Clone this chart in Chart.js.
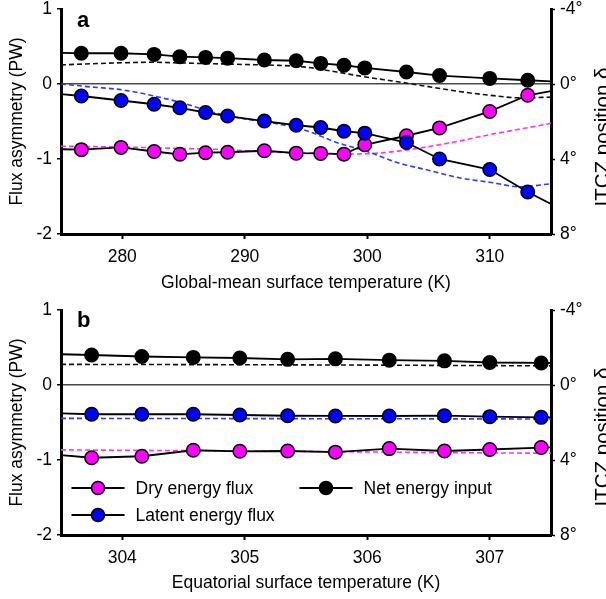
<!DOCTYPE html>
<html>
<head>
<meta charset="utf-8">
<script src="https://cdn.jsdelivr.net/npm/chart.js@4.4.0/dist/chart.umd.min.js"></script>
<style>
  html, body { margin: 0; padding: 0; background: #fff; }
  #wrap { position: relative; width: 606px; height: 599px; overflow: hidden; }
  canvas { position: absolute; left: 0; }
  #chartA { top: 0; }
  #chartB { top: 300px; }
</style>
</head>
<body>
<div id="wrap">
  <canvas id="chartA" width="606" height="300"></canvas>
  <canvas id="chartB" width="606" height="299"></canvas>
</div>
<script>
// Panel a: runs vs global-mean surface temperature (first/last entries are where the lines meet the axes)
const tempA = [275, 276.66, 279.9, 282.6, 284.7, 286.8, 288.6, 291.6, 294.2, 296.2, 298.1, 299.8, 303.2, 305.9, 310.0, 313.1, 315];
const netA = [0.415, 0.41, 0.41, 0.395, 0.365, 0.355, 0.345, 0.32, 0.31, 0.275, 0.25, 0.215, 0.16, 0.113, 0.075, 0.05, 0.035];
const latentA = [-0.135, -0.16, -0.22, -0.27, -0.317, -0.38, -0.427, -0.494, -0.55, -0.58, -0.63, -0.655, -0.78, -1.0, -1.14, -1.44, -1.6];
const dryA = [-0.87, -0.875, -0.845, -0.9, -0.937, -0.916, -0.91, -0.89, -0.922, -0.925, -0.935, -0.81, -0.69, -0.585, -0.366, -0.15, -0.095];

// Panel a: dashed curves
const thA = [275, 277.5, 280, 282.5, 285, 287.5, 290, 292.5, 295, 297.5, 300, 302.5, 305, 307.5, 310, 312.5, 315];
const netThA = [0.255, 0.27, 0.283, 0.29, 0.28, 0.27, 0.26, 0.25, 0.225, 0.16, 0.09, 0.03, -0.035, -0.1, -0.15, -0.185, -0.175];
const latThA = [0.0, -0.04, -0.078, -0.156, -0.257, -0.38, -0.465, -0.525, -0.62, -0.78, -0.9, -1.05, -1.15, -1.25, -1.31, -1.37, -1.33];
const dryThA = [-0.83, -0.835, -0.84, -0.85, -0.86, -0.87, -0.89, -0.91, -0.92, -0.935, -0.93, -0.895, -0.835, -0.76, -0.675, -0.6, -0.525];

// Panel b: runs vs equatorial surface temperature
const tempB = [303.5, 303.75, 304.16, 304.58, 304.96, 305.35, 305.74, 306.18, 306.63, 307.0, 307.42, 307.5];
const netB = [0.41, 0.4, 0.38, 0.368, 0.36, 0.342, 0.349, 0.331, 0.322, 0.3, 0.294, 0.293];
const latentB = [-0.378, -0.39, -0.39, -0.39, -0.4, -0.41, -0.413, -0.413, -0.409, -0.422, -0.431, -0.432];
const dryB = [-0.935, -0.97, -0.95, -0.87, -0.884, -0.88, -0.895, -0.848, -0.88, -0.86, -0.834, -0.832];

// Panel b: dashed curves
const thB = [303.5, 304.5, 305.5, 306.5, 307.5];
const netThB = [0.275, 0.272, 0.268, 0.262, 0.255];
const latThB = [-0.445, -0.447, -0.449, -0.451, -0.453];
const dryThB = [-0.865, -0.875, -0.885, -0.9, -0.91];

// Tick labels
const xTicksA = [280, 290, 300, 310];
const xTicksB = [304, 305, 306, 307];
const yTicks = [1, 0, -1, -2];
const itczTicks = [-4, 0, 4, 8];

const FAMILY = '"Liberation Sans", Arial, Helvetica, sans-serif';
const font = { family: FAMILY, size: 17.5 };
const MAGENTA = '#ff00ff';
const BLUE = '#0000ff';

function pts(xs, ys) {
    return xs.map((x, i) => ({ x: x, y: ys[i] }));
}

// solid series with markers; no marker on the two end points
function solid(label, xs, ys, fill) {
    const n = xs.length;
    return {
        label: label,
        data: pts(xs, ys),
        borderColor: '#000',
        borderWidth: 1.8,
        tension: 0,
        pointRadius: (c) => (c.dataIndex === 0 || c.dataIndex === n - 1 ? 0 : 6.75),
        pointBackgroundColor: fill,
        pointBorderColor: '#000',
        pointBorderWidth: 1.5,
    };
}

function dashed(xs, ys, color) {
    return {
        label: '',
        data: pts(xs, ys),
        borderColor: color,
        borderWidth: 1.6,
        borderDash: [5, 3],
        pointRadius: 0,
        cubicInterpolationMode: 'monotone',
    };
}

const panelText = {
    id: 'panelText',
    afterDraw(chart, args, opts) {
        const ctx = chart.ctx;
        ctx.save();
        ctx.fillStyle = '#000';
        ctx.textBaseline = 'alphabetic';
        ctx.font = 'bold 22px ' + FAMILY;
        ctx.fillText(opts.letter, 77, 27);
        // right axis title, cut off by the page edge as in the original
        ctx.font = '20.5px ' + FAMILY;
        ctx.translate(608.5, opts.rightY);
        ctx.rotate(-Math.PI / 2);
        ctx.textAlign = 'center';
        ctx.fillText('ITCZ position \u03b4', 0, 0);
        ctx.restore();
    }
};

// legend drawn inside panel b
const insideLegend = {
    id: 'insideLegend',
    afterDraw(chart, args, opts) {
        if (!opts.items) return;
        const ctx = chart.ctx;
        ctx.save();
        opts.items.forEach((it) => {
            const ds = chart.data.datasets[it.index];
            ctx.strokeStyle = '#000';
            ctx.lineWidth = 1.8;
            ctx.beginPath();
            ctx.moveTo(it.x, it.y);
            ctx.lineTo(it.x + 53, it.y);
            ctx.stroke();
            ctx.lineWidth = 1.5;
            ctx.beginPath();
            ctx.arc(it.x + 26.5, it.y, 6.5, 0, Math.PI * 2);
            ctx.fillStyle = ds.pointBackgroundColor;
            ctx.fill();
            ctx.stroke();
            ctx.fillStyle = '#000';
            ctx.font = '17.5px ' + FAMILY;
            ctx.textBaseline = 'middle';
            ctx.fillText(ds.label, it.x + 64, it.y + 1);
        });
        ctx.restore();
    }
};

function makeChart(id, cfg) {
    const datasets = [
        solid('Latent energy flux', cfg.t, cfg.latent, BLUE),
        solid('Dry energy flux', cfg.t, cfg.dry, MAGENTA),
        solid('Net energy input', cfg.t, cfg.net, '#000'),
        dashed(cfg.th, cfg.netTh, '#111'),
        dashed(cfg.th, cfg.latTh, '#2a3cff'),
        dashed(cfg.th, cfg.dryTh, '#ff33ff'),
    ];
    return new Chart(document.getElementById(id), {
        type: 'line',
        data: { datasets: datasets },
        plugins: [panelText, insideLegend],
        options: {
            responsive: false,
            animation: false,
            events: [],
            layout: { padding: { top: cfg.padTop, left: 0, right: 0, bottom: 0 }, autoPadding: false },
            plugins: {
                legend: { display: false },
                tooltip: { enabled: false },
                panelText: { letter: cfg.letter, rightY: 137 },
                insideLegend: { items: cfg.legend },
            },
            scales: {
                x: {
                    type: 'linear',
                    min: cfg.xMin,
                    max: cfg.xMax,
                    afterBuildTicks: (s) => { s.ticks = cfg.xTicks.map((v) => ({ value: v })); },
                    afterFit: (s) => { s.height = cfg.xHeight; s.paddingLeft = 0; s.paddingRight = 0; },
                    ticks: { font: font, color: '#000', padding: 8, maxRotation: 0 },
                    grid: { drawOnChartArea: false, tickLength: 5, tickColor: '#000', tickWidth: 2 },
                    border: { display: true, color: '#000', width: 3 },
                    title: { display: true, text: cfg.xTitle, font: font, color: '#000', padding: { top: 0, bottom: cfg.titlePad } },
                },
                y: {
                    position: 'left',
                    min: -2,
                    max: 1,
                    afterBuildTicks: (s) => { s.ticks = yTicks.map((v) => ({ value: v })); },
                    afterFit: (s) => { s.width = 61; s.paddingTop = 0; s.paddingBottom = 0; },
                    ticks: { font: font, color: '#000', padding: 5 },
                    grid: {
                        drawOnChartArea: true,
                        color: (c) => (c.tick && c.tick.value === 0 ? '#4a4a4a' : 'rgba(0,0,0,0)'),
                        lineWidth: 1.5,
                        tickColor: '#000',
                        tickLength: 4,
                        tickWidth: 1.5,
                    },
                    border: { display: true, color: '#000', width: 3 },
                    title: { display: true, text: 'Flux asymmetry (PW)', font: font, color: '#000', padding: { top: 6.5, bottom: 0 } },
                },
                itcz: {
                    position: 'right',
                    min: -4,
                    max: 8,
                    reverse: true,
                    afterBuildTicks: (s) => { s.ticks = itczTicks.map((v) => ({ value: v })); },
                    afterFit: (s) => { s.width = 55; s.paddingTop = 0; s.paddingBottom = 0; },
                    ticks: { font: font, color: '#000', padding: 5, callback: (v) => v + '\u00b0' },
                    grid: { drawOnChartArea: false, tickLength: 4, tickColor: '#000', tickWidth: 1.5 },
                    border: { display: true, color: '#000', width: 3 },
                },
            },
        },
    });
}

makeChart('chartA', {
    letter: 'a', t: tempA, net: netA, latent: latentA, dry: dryA,
    th: thA, netTh: netThA, latTh: latThA, dryTh: dryThA,
    xMin: 275, xMax: 315, xTicks: xTicksA, xTitle: 'Global-mean surface temperature (K)',
    padTop: 9, xHeight: 66, titlePad: 6.5, legend: null,
});

makeChart('chartB', {
    letter: 'b', t: tempB, net: netB, latent: latentB, dry: dryB,
    th: thB, netTh: netThB, latTh: latThB, dryTh: dryThB,
    xMin: 303.5, xMax: 307.5, xTicks: xTicksB, xTitle: 'Equatorial surface temperature (K)',
    padTop: 10, xHeight: 64, titlePad: 5.5,
    legend: [
        { index: 1, x: 71.5, y: 188 },
        { index: 0, x: 71.5, y: 215 },
        { index: 2, x: 299.5, y: 188 },
    ],
});
</script>
</body>
</html>
